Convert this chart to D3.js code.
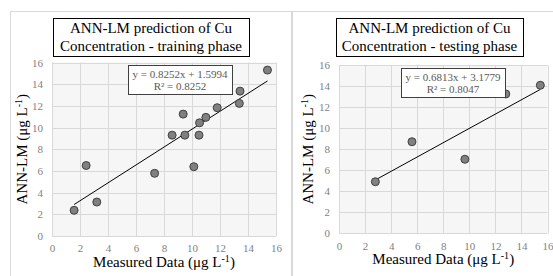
<!DOCTYPE html>
<html>
  <head>
    <meta charset="utf-8">
    <title>ANN-LM prediction of Cu</title>
    <script src="https://cdn.jsdelivr.net/npm/d3@7"></script>
    <style>
      body { margin: 0; background: #fff; }
      svg { display: block; font-family: "Liberation Serif", "Times New Roman", serif; }
      .tick text { fill: #7f7f7f; font-size: 11px; font-family: "Liberation Serif", "Times New Roman", serif; }
      .grid line { stroke: #d9d9d9; }
    </style>
  </head>

  <body>
    <svg id="chart" width="553" height="276"></svg>

    <script>
      // data
      const ticks = [0, 2, 4, 6, 8, 10, 12, 14, 16];

      const trainMeasured = [1.58, 2.44, 3.2, 7.33, 8.58, 9.49, 10.5, 10.13, 9.37, 10.54, 10.99, 11.8, 13.38, 13.43, 15.39];
      const trainPredicted = [2.37, 6.5, 3.13, 5.78, 9.3, 9.3, 9.3, 6.39, 11.24, 10.44, 10.94, 11.83, 12.23, 13.36, 15.3];
      const trainFit = [0.8252, 1.5994];

      const testMeasured = [2.79, 5.6, 9.66, 12.8, 15.45];
      const testPredicted = [4.91, 8.72, 7.05, 13.27, 14.1];
      const testFit = [0.6813, 3.1779];

      const svg = d3.select("#chart");

      // chart frames
      svg.append("rect")
        .attr("x", 10.5).attr("y", 11.5)
        .attr("width", 281).attr("height", 280)
        .attr("fill", "#fff").attr("stroke", "#d9d9d9");
      svg.append("rect")
        .attr("x", 292.5).attr("y", 11.5)
        .attr("width", 280).attr("height", 280)
        .attr("fill", "#fff").attr("stroke", "#d9d9d9");

      function drawPanel(p) {
        const g = svg.append("g");
        const x = d3.scaleLinear().domain([0, 16]).range([p.left, p.right]);
        const y = d3.scaleLinear().domain([0, 16]).range([p.bottom, p.top]);

        // plot area
        g.append("rect")
          .attr("x", p.left).attr("y", p.top)
          .attr("width", p.right - p.left).attr("height", p.bottom - p.top)
          .attr("fill", "#f6f6f6");

        // gridlines
        g.append("g").attr("class", "grid")
          .selectAll("line.v").data(ticks).enter().append("line")
            .attr("x1", d => Math.round(x(d)) + 0.5).attr("x2", d => Math.round(x(d)) + 0.5)
            .attr("y1", p.top).attr("y2", p.bottom);
        g.append("g").attr("class", "grid")
          .selectAll("line.h").data(ticks).enter().append("line")
            .attr("y1", d => Math.round(y(d)) + 0.5).attr("y2", d => Math.round(y(d)) + 0.5)
            .attr("x1", p.left).attr("x2", p.right);

        // axes (labels only)
        g.append("g")
          .attr("transform", "translate(0," + p.bottom + ")")
          .call(d3.axisBottom(x).tickValues(ticks).tickSize(0).tickPadding(p.xPad));
        g.append("g")
          .attr("transform", "translate(" + p.left + ",0)")
          .call(d3.axisLeft(y).tickValues(ticks).tickSize(0).tickPadding(p.yPad));
        g.selectAll(".domain").remove();

        // trendline
        const x0 = d3.min(p.xs), x1 = d3.max(p.xs);
        g.append("line")
          .attr("x1", x(x0)).attr("y1", y(p.fit[0] * x0 + p.fit[1]))
          .attr("x2", x(x1)).attr("y2", y(p.fit[0] * x1 + p.fit[1]))
          .attr("stroke", "#000").attr("stroke-width", 1);

        // points
        g.selectAll("circle").data(p.xs).enter().append("circle")
          .attr("cx", d => x(d))
          .attr("cy", (d, i) => y(p.ys[i]))
          .attr("r", 4)
          .attr("fill", "#808080")
          .attr("stroke", "#404040")
          .attr("stroke-width", 1);

        // chart title box
        g.append("rect")
          .attr("x", p.title[0] + 0.5).attr("y", 18.5)
          .attr("width", p.title[1] - p.title[0]).attr("height", 38)
          .attr("fill", "#fff").attr("stroke", "#000");
        const tc = (p.title[0] + p.title[1]) / 2;
        g.append("text").attr("x", tc).attr("y", 33)
          .attr("text-anchor", "middle").style("font-size", "15px")
          .text("ANN-LM prediction of Cu");
        g.append("text").attr("x", tc).attr("y", 51)
          .attr("text-anchor", "middle").style("font-size", "15px")
          .text(p.label);

        // equation box
        g.append("rect")
          .attr("x", p.eq[0] + 0.5).attr("y", p.eq[2] + 0.5)
          .attr("width", p.eq[1] - p.eq[0]).attr("height", 29)
          .attr("fill", "#fff").attr("stroke", "#404040");
        const ec = (p.eq[0] + p.eq[1]) / 2;
        g.append("text").attr("x", ec).attr("y", p.eq[2] + 13)
          .attr("text-anchor", "middle").attr("fill", "#595959").style("font-size", "11px")
          .text("y = " + p.fit[0] + "x + " + p.fit[1]);
        g.append("text").attr("x", ec).attr("y", p.eq[2] + 25)
          .attr("text-anchor", "middle").attr("fill", "#595959").style("font-size", "11px")
          .text("R² = " + p.r2);

        // axis titles
        const xt = g.append("text")
          .attr("x", (p.left + p.right) / 2).attr("y", p.bottom + 31)
          .attr("text-anchor", "middle").style("font-size", "15px");
        xt.append("tspan").text("Measured Data (μg L");
        xt.append("tspan").attr("dy", -5).style("font-size", "10px").text("-1");
        xt.append("tspan").attr("dy", 5).text(")");

        const yt = g.append("text")
          .attr("transform", "translate(" + p.yTitle + "," + (p.top + p.bottom) / 2 + ") rotate(-90)")
          .attr("text-anchor", "middle").style("font-size", "15px");
        yt.append("tspan").text("ANN-LM (μg L");
        yt.append("tspan").attr("dy", -5).style("font-size", "10px").text("-1");
        yt.append("tspan").attr("dy", 5).text(")");
      }

      drawPanel({
        left: 52, right: 276, top: 62.5, bottom: 236,
        xs: trainMeasured, ys: trainPredicted, fit: trainFit, r2: "0.8252",
        title: [53, 249], label: "Concentration - training phase",
        eq: [128, 232, 65],
        xPad: 8, yPad: 9, yTitle: 27
      });

      drawPanel({
        left: 339, right: 547.5, top: 65.3, bottom: 233.3,
        xs: testMeasured, ys: testPredicted, fit: testFit, r2: "0.8047",
        title: [336, 523], label: "Concentration - testing phase",
        eq: [401, 505, 68],
        xPad: 9, yPad: 9, yTitle: 313
      });
    </script>
  </body>
</html>
